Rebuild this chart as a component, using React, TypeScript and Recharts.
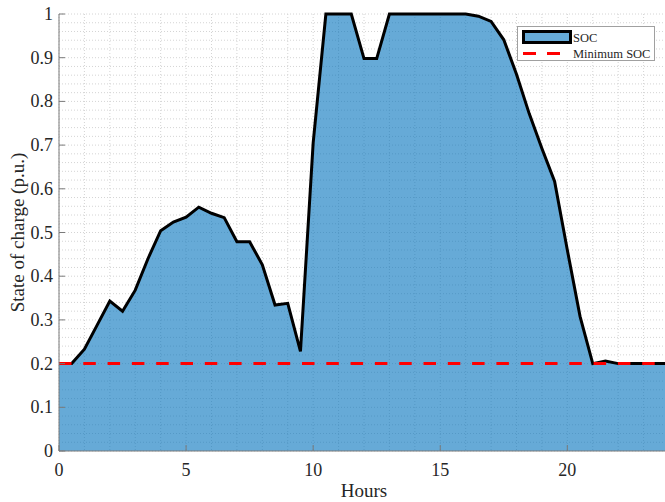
import React from 'react';
import {
  ComposedChart,
  Area,
  Line,
  XAxis,
  YAxis,
  CartesianGrid,
  Legend,
  Label,
} from 'recharts';

// Half-hourly battery state of charge over one day (p.u.)
const HOURS = [
  0, 0.5, 1, 1.5, 2, 2.5, 3, 3.5, 4, 4.5, 5, 5.5, 6, 6.5, 7, 7.5, 8, 8.5, 9, 9.5,
  10, 10.5, 11, 11.5, 12, 12.5, 13, 13.5, 14, 14.5, 15, 15.5, 16, 16.5, 17, 17.5,
  18, 18.5, 19, 19.5, 20, 20.5, 21, 21.5, 22, 22.5, 23, 23.5, 24,
];
const SOC = [
  0.2, 0.2, 0.233, 0.288, 0.343, 0.32, 0.368, 0.44, 0.504, 0.524, 0.535, 0.558,
  0.544, 0.534, 0.479, 0.479, 0.426, 0.334, 0.338, 0.228,
  0.705, 1, 1, 1, 0.898, 0.898, 1, 1, 1, 1, 1, 1, 1, 0.995, 0.983, 0.941,
  0.862, 0.772, 0.692, 0.617, 0.46, 0.308, 0.2, 0.206, 0.2, 0.2, 0.2, 0.2, 0.2,
];
const MIN_SOC = 0.2;

const X_TICKS = [0, 5, 10, 15, 20];
const X_TICK_LABELS = ['0', '5', '10', '15', '20'];
const Y_TICKS = [0, 0.1, 0.2, 0.3, 0.4, 0.5, 0.6, 0.7, 0.8, 0.9, 1];
const Y_TICK_LABELS = ['0', '0.1', '0.2', '0.3', '0.4', '0.5', '0.6', '0.7', '0.8', '0.9', '1'];
const X_MINOR_STEP = 1;
const Y_MINOR_STEP = 0.02;

const LEGEND_ITEMS = ['SOC', 'Minimum SOC'];

const data = HOURS.map((h, i) => ({ hour: h, soc: SOC[i], min: MIN_SOC }));

const FONT = '"Liberation Serif", "Times New Roman", serif';
const AXIS_COLOR = '#7a7a7a';
const TEXT_COLOR = '#262626';
const TICK_LEN = 6;
const X_MAX = 24;

const labelFor = (ticks: number[], labels: string[], v: number) => {
  const i = ticks.findIndex((t) => Math.abs(t - v) < 1e-9);
  return i >= 0 ? labels[i] : String(v);
};

const BottomTick = (props: any) => {
  const { x, y, payload } = props;
  return (
    <g>
      <line x1={x} x2={x} y1={y} y2={y - TICK_LEN} stroke={AXIS_COLOR} strokeWidth={1} />
      <text x={x} y={y + 25} textAnchor="middle" fontFamily={FONT} fontSize={18} fill={TEXT_COLOR}>
        {labelFor(X_TICKS, X_TICK_LABELS, payload.value)}
      </text>
    </g>
  );
};

const TopTick = (props: any) => {
  const { x, y } = props;
  return <line x1={x} x2={x} y1={y} y2={y + TICK_LEN} stroke={AXIS_COLOR} strokeWidth={1} />;
};

const LeftTick = (props: any) => {
  const { x, y, payload } = props;
  return (
    <g>
      <line x1={x} x2={x + TICK_LEN} y1={y} y2={y} stroke={AXIS_COLOR} strokeWidth={1} />
      <text x={x - 6} y={y + 6} textAnchor="end" fontFamily={FONT} fontSize={18} fill={TEXT_COLOR}>
        {labelFor(Y_TICKS, Y_TICK_LABELS, payload.value)}
      </text>
    </g>
  );
};

const RightTick = (props: any) => {
  const { x, y } = props;
  return <line x1={x} x2={x - TICK_LEN} y1={y} y2={y} stroke={AXIS_COLOR} strokeWidth={1} />;
};

const range = (start: number, end: number, step: number) => {
  const out: number[] = [];
  for (let v = start; v <= end + 1e-9; v += step) out.push(v);
  return out;
};

const verticalGrid = ({ offset }: any) =>
  range(0, X_MAX, X_MINOR_STEP).map((v) => offset.left + (offset.width * v) / X_MAX);

const horizontalGrid = ({ offset }: any) =>
  range(0, 1, Y_MINOR_STEP).map((v) => offset.top + offset.height * (1 - v));

const LegendBox = () => (
  <div
    style={{
      width: 136,
      height: 33,
      border: '1px solid #a0a0a0',
      background: '#ffffff',
      position: 'relative',
      boxSizing: 'content-box',
    }}
  >
    <svg width={136} height={33} style={{ position: 'absolute', left: 0, top: 0, overflow: 'visible' }}>
      <rect x={5.5} y={4.5} width={47} height={11} fill="#0072BD" fillOpacity={0.6} stroke="#000" strokeWidth={3} />
      <line x1={5} x2={43} y1={26.5} y2={26.5} stroke="#ff0000" strokeWidth={3} strokeDasharray="13 11" />
      <text x={55} y={14.5} fontFamily={FONT} fontSize={12.5} fill={TEXT_COLOR}>
        {LEGEND_ITEMS[0]}
      </text>
      <text x={55} y={30.5} fontFamily={FONT} fontSize={12.5} fill={TEXT_COLOR}>
        {LEGEND_ITEMS[1]}
      </text>
    </svg>
  </div>
);

export default function App() {
  return (
    <div
      style={{
        position: 'absolute',
        left: 0,
        top: 0,
        width: 665,
        height: 502,
        overflow: 'hidden',
        background: '#ffffff',
      }}
    >
      <ComposedChart
        width={680}
        height={502}
        data={data}
        margin={{ top: 14, right: 11, bottom: 0, left: 0 }}
      >
        <CartesianGrid
          xAxisId="x"
          yAxisId="y"
          stroke="#d4d4d4"
          strokeDasharray="1 2"
          verticalCoordinatesGenerator={verticalGrid}
          horizontalCoordinatesGenerator={horizontalGrid}
        />
        <XAxis
          xAxisId="x"
          dataKey="hour"
          type="number"
          domain={[0, X_MAX]}
          ticks={X_TICKS}
          height={51}
          tickSize={0}
          tickMargin={0}
          tickLine={false}
          axisLine={{ stroke: AXIS_COLOR, strokeWidth: 1 }}
          tick={<BottomTick />}
          interval={0}
        >
          <Label
            content={({ viewBox }: any) => (
              <text
                x={viewBox.x + viewBox.width / 2}
                y={viewBox.y + 46}
                textAnchor="middle"
                fontFamily={FONT}
                fontSize={19}
                fill={TEXT_COLOR}
              >
                Hours
              </text>
            )}
          />
        </XAxis>
        <XAxis
          xAxisId="top"
          dataKey="hour"
          type="number"
          orientation="top"
          domain={[0, X_MAX]}
          ticks={X_TICKS}
          height={0}
          tickSize={0}
          tickMargin={0}
          tickLine={false}
          axisLine={{ stroke: AXIS_COLOR, strokeWidth: 1 }}
          tick={<TopTick />}
          interval={0}
        />
        <YAxis
          yAxisId="y"
          type="number"
          domain={[0, 1]}
          ticks={Y_TICKS}
          width={59}
          tickSize={0}
          tickMargin={0}
          tickLine={false}
          axisLine={{ stroke: AXIS_COLOR, strokeWidth: 1 }}
          tick={<LeftTick />}
          interval={0}
        >
          <Label
            content={({ viewBox }: any) => {
              const cx = viewBox.x + 24;
              const cy = viewBox.y + viewBox.height / 2;
              return (
                <text
                  x={cx}
                  y={cy}
                  transform={`rotate(-90 ${cx} ${cy})`}
                  textAnchor="middle"
                  fontFamily={FONT}
                  fontSize={19}
                  fill={TEXT_COLOR}
                >
                  State of charge (p.u.)
                </text>
              );
            }}
          />
        </YAxis>
        <YAxis
          yAxisId="right"
          orientation="right"
          type="number"
          domain={[0, 1]}
          ticks={Y_TICKS}
          width={0}
          tickSize={0}
          tickMargin={0}
          tickLine={false}
          axisLine={{ stroke: AXIS_COLOR, strokeWidth: 1 }}
          tick={<RightTick />}
          interval={0}
        />
        <Area
          xAxisId="x"
          yAxisId="y"
          type="linear"
          dataKey="soc"
          name="SOC"
          stroke="#000000"
          strokeWidth={3}
          strokeLinejoin="miter"
          fill="#0072BD"
          fillOpacity={0.6}
          dot={false}
          activeDot={false}
          isAnimationActive={false}
        />
        <Line
          xAxisId="x"
          yAxisId="y"
          type="linear"
          dataKey="min"
          name="Minimum SOC"
          stroke="#ff0000"
          strokeWidth={3}
          strokeDasharray="12.5 11.8"
          dot={false}
          activeDot={false}
          isAnimationActive={false}
        />
        <Legend
          layout="vertical"
          align="center"
          verticalAlign="middle"
          content={<LegendBox />}
          wrapperStyle={{ left: 517, top: 26, width: 138, height: 35 }}
        />
      </ComposedChart>
    </div>
  );
}
